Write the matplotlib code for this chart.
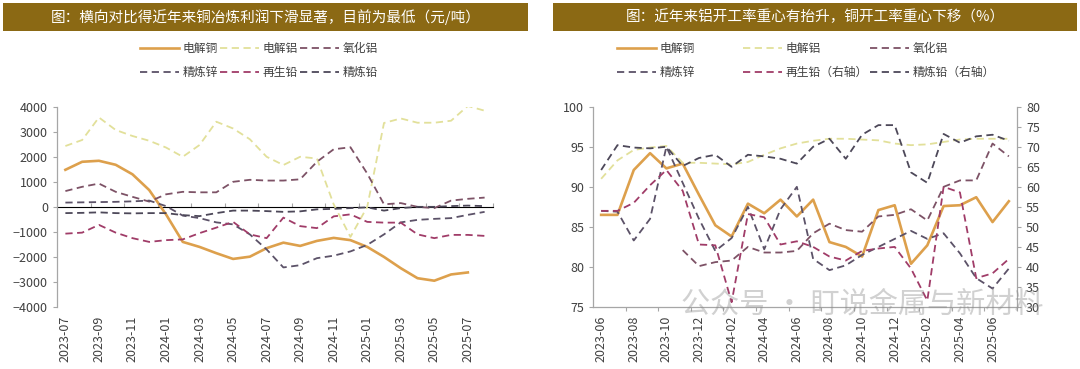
import matplotlib
matplotlib.use("Agg")

import matplotlib.pyplot as plt
import matplotlib.patches as mpatches
import numpy as np

plt.rcParams["font.family"] = ["Noto Sans CJK SC", "DejaVu Sans"]

nan = np.nan

# ---------------------------------------------------------------------------
# Data - left: smelting profit (yuan/t), 2023-07 .. 2025-08
# ---------------------------------------------------------------------------
months_l = ["2023-07", "2023-08", "2023-09", "2023-10", "2023-11", "2023-12",
            "2024-01", "2024-02", "2024-03", "2024-04", "2024-05", "2024-06",
            "2024-07", "2024-08", "2024-09", "2024-10", "2024-11", "2024-12",
            "2025-01", "2025-02", "2025-03", "2025-04", "2025-05", "2025-06",
            "2025-07", "2025-08"]
cu_profit = [1480, 1800, 1840, 1680, 1300, 670, -300, -1400, -1600, -1850,
             -2080, -1990, -1650, -1430, -1560, -1360, -1240, -1330, -1600,
             -2000, -2450, -2850, -2950, -2700, -2620, nan]
al_profit = [2430, 2670, 3570, 3070, 2830, 2640, 2370, 2000, 2470, 3400,
             3130, 2700, 2000, 1670, 2000, 1930, 100, -1200, 0, 3350, 3530,
             3360, 3360, 3440, 4030, 3840]
alumina_profit = [630, 800, 930, 600, 400, 210, 500, 600, 580, 580, 1000,
                  1080, 1050, 1050, 1100, 1800, 2300, 2380, 1330, 100, 150,
                  0, -50, 250, 320, 370]
zinc_profit = [170, 180, 190, 200, 220, 250, 30, -350, -450, -620, -700,
               -1100, -1700, -2420, -2330, -2050, -1950, -1780, -1520, -1100,
               -620, -520, -480, -450, -320, -200]
sec_lead_profit = [-1070, -1030, -720, -1030, -1250, -1400, -1330, -1300,
                   -1050, -830, -600, -1100, -1250, -430, -770, -850, -380,
                   -300, -600, -630, -630, -1100, -1250, -1120, -1120, -1160]
lead_profit = [-250, -240, -220, -250, -260, -250, -250, -330, -370, -250,
               -150, -150, -170, -200, -180, -100, -80, -50, -20, -150, -50,
               0, 0, 30, 50, 30]

# ---------------------------------------------------------------------------
# Data - right: operating rates (%), 2023-06 .. 2025-07
# ---------------------------------------------------------------------------
months_r = ["2023-06", "2023-07", "2023-08", "2023-09", "2023-10", "2023-11",
            "2023-12", "2024-01", "2024-02", "2024-03", "2024-04", "2024-05",
            "2024-06", "2024-07", "2024-08", "2024-09", "2024-10", "2024-11",
            "2024-12", "2025-01", "2025-02", "2025-03", "2025-04", "2025-05",
            "2025-06", "2025-07"]
cu_rate = [86.5, 86.5, 92.1, 94.2, 92.3, 92.9, 89.0, 85.2, 83.8, 87.9, 86.7,
           88.4, 86.3, 88.4, 83.1, 82.5, 81.3, 87.1, 87.7, 80.4, 82.7, 87.6,
           87.7, 88.7, 85.6, 88.2]
al_rate = [91.0, 93.3, 94.6, 94.9, 95.1, 93.0, 93.0, 92.9, 92.8, 93.1, 94.0,
           94.8, 95.4, 95.75, 96.0, 96.0, 95.9, 95.8, 95.4, 95.2, 95.3, 95.6,
           95.9, 96.0, 96.0, 96.0]
alumina_rate = [nan, nan, nan, nan, nan, 82.1, 80.1, 80.6, 80.8, 82.5, 81.8,
                81.8, 82.0, 84.2, 85.4, 84.6, 84.4, 86.3, 86.5, 87.2, 85.8,
                90.0, 90.8, 90.8, 95.4, 93.8]
zinc_rate = [87.0, 86.9, 83.3, 86.0, 95.0, 90.5, 86.0, 82.0, 83.6, 87.5, 82.2,
             87.2, 90.0, 81.0, 79.6, 80.2, 81.5, 82.5, 83.5, 84.5, 83.5, 84.2,
             81.7, 78.6, 77.3, 79.8]
sec_lead_rate = [54.0, 54.0, 56.0, 60.4, 64.2, 59.0, 45.6, 45.4, 31.2, 53.2,
                 52.4, 45.6, 46.4, 45.0, 42.6, 41.6, 44.0, 44.6, 45.0, 39.6,
                 31.6, 60.0, 58.6, 37.2, 38.4, 42.0]
lead_rate = [64.2, 70.4, 69.8, 69.6, 70.0, 65.2, 67.2, 68.0, 65.0, 68.0, 67.6,
             67.0, 65.8, 70.0, 72.0, 67.0, 73.0, 75.4, 75.4, 63.6, 61.0, 73.2,
             71.0, 72.6, 73.0, 71.5]

# ---------------------------------------------------------------------------
# Style
# ---------------------------------------------------------------------------
W, H = 1080, 369
BAR = "#8B6914"
AXIS_GREY = "#A6A6A6"
TEXT = "#404040"
C_CU = "#DDA04C"
C_AL = "#E2E09A"
C_ALUMINA = "#7D5266"
C_ZINC = "#5C5268"
C_SECLEAD = "#A03C68"
C_LEAD = "#4D4859"
DASH = (4, 2.5)
TICK_FS = 9
LEG_FS = 8.5


def fx(px):
    return px / W


def fy(py):
    return 1 - py / H


def style_axes(ax):
    for s in ax.spines.values():
        s.set_color(AXIS_GREY)
        s.set_linewidth(0.9)
    ax.tick_params(colors=TEXT, labelsize=TICK_FS, length=3, width=0.8,
                   color=AXIS_GREY)


def title_bar(x0, x1, text):
    fig.patches.append(mpatches.Rectangle(
        (fx(x0), fy(31)), fx(x1 - x0), 28 / H,
        transform=fig.transFigure, facecolor=BAR, edgecolor="none"))
    fig.text(fx((x0 + x1) / 2), fy(17), text, color="white", fontsize=10.5,
             ha="center", va="center")


def legend_col(handles, x_px):
    fig.legend(handles=handles, loc="upper left",
               bbox_to_anchor=(fx(x_px), fy(42)), frameon=False,
               fontsize=LEG_FS, handlelength=3.3, handletextpad=0.3,
               labelspacing=0.95, borderpad=0, borderaxespad=0,
               labelcolor=TEXT)


fig = plt.figure(figsize=(W / 100, H / 100), dpi=100)

# ---------------------------------------------------------------------------
# Left chart
# ---------------------------------------------------------------------------
axl = fig.add_axes([fx(57), fy(307), fx(493 - 57), (307 - 106.7) / H])
xl = np.arange(len(months_l))
h_cu, = axl.plot(xl, cu_profit, color=C_CU, lw=1.9, label="电解铜")
h_al, = axl.plot(xl, al_profit, color=C_AL, lw=1.3, dashes=DASH, label="电解铝")
h_an, = axl.plot(xl, alumina_profit, color=C_ALUMINA, lw=1.3, dashes=DASH, label="氧化铝")
h_zn, = axl.plot(xl, zinc_profit, color=C_ZINC, lw=1.3, dashes=DASH, label="精炼锌")
h_sl, = axl.plot(xl, sec_lead_profit, color=C_SECLEAD, lw=1.3, dashes=DASH, label="再生铅")
h_pb, = axl.plot(xl, lead_profit, color=C_LEAD, lw=1.3, dashes=DASH, label="精炼铅")

axl.set_xlim(-0.5, len(months_l) - 0.5)
axl.set_ylim(-4000, 4000)
axl.set_yticks(np.arange(-4000, 4001, 1000))
axl.set_xticks(xl[::2])
axl.set_xticklabels(months_l[::2], rotation=90)
style_axes(axl)
axl.spines["top"].set_visible(False)
axl.spines["right"].set_visible(False)
axl.spines["bottom"].set_visible(False)
axl.tick_params(axis="x", length=0, pad=6)

# category axis crossing at zero (tick marks only)
zero_ticks = np.arange(1.5, len(months_l), 2)
zero_ax = axl.secondary_xaxis(0.5)
zero_ax.set_xticks(zero_ticks, labels=[""] * len(zero_ticks))
zero_ax.tick_params(axis="x", length=3, width=0.8, color=AXIS_GREY,
                    direction="out")
zero_ax.spines["bottom"].set_color(AXIS_GREY)
zero_ax.spines["bottom"].set_linewidth(0.9)

title_bar(3, 528, "图：横向对比得近年来铜冶炼利润下滑显著，目前为最低（元/吨）")
legend_col([h_cu, h_zn], 140)
legend_col([h_al, h_sl], 220)
legend_col([h_an, h_pb], 300)

# ---------------------------------------------------------------------------
# Right chart
# ---------------------------------------------------------------------------
axr = fig.add_axes([fx(593), fy(307), fx(1017 - 593), (307 - 106.7) / H])
axr2 = axr.twinx()
xr = np.arange(len(months_r))
g_cu, = axr.plot(xr, cu_rate, color=C_CU, lw=1.9, label="电解铜")
g_al, = axr.plot(xr, al_rate, color=C_AL, lw=1.3, dashes=DASH, label="电解铝")
g_an, = axr.plot(xr, alumina_rate, color=C_ALUMINA, lw=1.3, dashes=DASH, label="氧化铝")
g_zn, = axr.plot(xr, zinc_rate, color=C_ZINC, lw=1.3, dashes=DASH, label="精炼锌")
g_sl, = axr2.plot(xr, sec_lead_rate, color=C_SECLEAD, lw=1.3, dashes=DASH, label="再生铅（右轴）")
g_pb, = axr2.plot(xr, lead_rate, color=C_LEAD, lw=1.3, dashes=DASH, label="精炼铅（右轴）")

axr.set_xlim(-0.5, len(months_r) - 0.5)
axr.set_ylim(75, 100)
axr.set_yticks(np.arange(75, 101, 5))
axr2.set_ylim(30, 80)
axr2.set_yticks(np.arange(30, 81, 5))
axr.set_xticks(np.arange(1.5, len(months_r), 2), minor=True)
axr.set_xticks(xr[::2])
axr.set_xticklabels(months_r[::2], rotation=90)
for a in (axr, axr2):
    style_axes(a)
    a.spines["top"].set_visible(False)
axr.spines["right"].set_visible(False)
axr2.spines["left"].set_visible(False)
axr2.spines["bottom"].set_visible(False)
axr.tick_params(axis="x", which="major", length=0, pad=6)
axr.tick_params(axis="x", which="minor", length=3, width=0.8, color=AXIS_GREY)

title_bar(553, 1077, "图：近年来铝开工率重心有抬升，铜开工率重心下移（%）")
legend_col([g_cu, g_zn], 617)
legend_col([g_al, g_sl], 743)
legend_col([g_an, g_pb], 870)

# watermark
fig.text(fx(862), fy(305), "公众号 · 盯说金属与新材料", fontsize=21,
         color="#8C8C8C", alpha=0.4, ha="center", va="center")

fig.savefig("out.png", dpi=100, facecolor="white")
plt.close(fig)
